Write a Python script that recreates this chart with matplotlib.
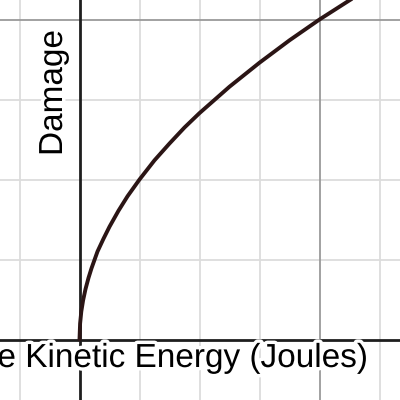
import matplotlib
matplotlib.use("Agg")
import matplotlib.pyplot as plt
import matplotlib.patheffects as pe

# Curve samples (energy, damage)
energy = [0, 0.01, 0.03, 0.06, 0.1, 0.15, 0.2, 0.3, 0.4, 0.5, 0.65, 0.8, 1.0,
          1.25, 1.5, 1.75, 2.0, 2.5, 3.0, 3.5, 4.0, 4.5, 5.0, 5.5]
damage = [0, 0.2, 0.35, 0.49, 0.63, 0.77, 0.89, 1.10, 1.26, 1.41, 1.61, 1.79, 2.0,
          2.24, 2.45, 2.65, 2.83, 3.16, 3.46, 3.74, 4.0, 4.24, 4.47, 4.69]

minor_x = [-1, 1, 2, 3, 5]
major_x = [4]
minor_y = [1, 2, 3]
major_y = [4]

xlabel = "Projectile Kinetic Energy (Joules)"
ylabel = "Damage"

plt.rcParams['font.family'] = ['Liberation Sans', 'DejaVu Sans']

fig = plt.figure(figsize=(4, 4), dpi=100)
ax = fig.add_axes([0, 0, 1, 1])
ax.set_xlim(-79.5 / 60, (400 - 79.5) / 60)
ax.set_ylim(-(400 - 339.5) / 80, 339.5 / 80)
ax.axis('off')

for v in minor_x:
    ax.axvline(v, color='#dcdcdc', lw=1.3, zorder=1)
for v in minor_y:
    ax.axhline(v, color='#dcdcdc', lw=1.3, zorder=1)
for v in major_x:
    ax.axvline(v, color='#9a9a9a', lw=1.3, zorder=1.5)
for v in major_y:
    ax.axhline(v, color='#9a9a9a', lw=1.3, zorder=1.5)

ax.axvline(0, color='#1e1e1e', lw=2.0, zorder=2)
ax.axhline(0, color='#1e1e1e', lw=2.0, zorder=2)

ax.plot(energy, damage, color='#2b1515', lw=2.8, zorder=4,
        solid_capstyle='round', solid_joinstyle='round')

halo = [pe.withStroke(linewidth=5, foreground='white')]
fig.text(368 / 400, 1 - 367 / 400, xlabel, ha='right', va='baseline',
         fontsize=24, color='black', path_effects=halo, zorder=3)
fig.text(62 / 400, 1 - 93 / 400, ylabel, ha='center', va='baseline',
         rotation=90, rotation_mode='anchor', fontsize=24, color='black',
         path_effects=halo, zorder=3)

fig.savefig('out.png', dpi=100)
